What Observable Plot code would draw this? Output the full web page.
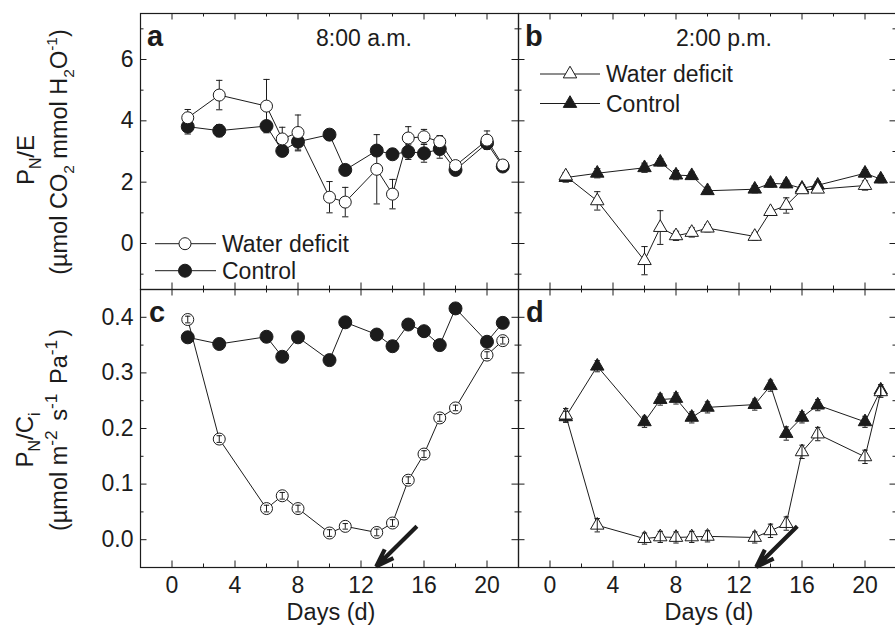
<!DOCTYPE html>
<html>
<head>
<meta charset="utf-8">
<script src="https://cdn.jsdelivr.net/npm/d3@7"></script>
<script src="https://cdn.jsdelivr.net/npm/@observablehq/plot@0.6"></script>
<style>
  html, body { margin: 0; padding: 0; background: #fff; }
  #wrap { position: relative; width: 895px; height: 627px; overflow: hidden; background: #fff; }
  #wrap > svg, #wrap > div { position: absolute; }
</style>
</head>
<body>
<div id="wrap"></div>
<script>
// ---------------- data ----------------
// Panel a: PN/E at 8:00 a.m.
const daysA = [1, 3, 6, 7, 8, 10, 11, 13, 14, 15, 16, 17, 18, 20, 21];
const wdA    = [4.10, 4.84, 4.48, 3.41, 3.62, 1.51, 1.35, 2.42, 1.61, 3.44, 3.48, 3.32, 2.54, 3.37, 2.56];
const wdAErr = [0.27, 0.48, 0.87, 0.38, 0.57, 0.51, 0.48, 1.13, 0.48, 0.37, 0.24, 0.20, 0.10, 0.30, 0.10];
const ctA    = [3.81, 3.68, 3.83, 3.02, 3.32, 3.55, 2.40, 3.03, 2.91, 2.99, 2.94, 3.08, 2.40, 3.27, 2.51];
const ctAErr = [0.24, 0.20, 0.10, 0.10, 0.30, 0.10, 0.10, 0.12, 0.10, 0.25, 0.29, 0.30, 0.10, 0.20, 0.10];

// Panel b: PN/E at 2:00 p.m.
const daysBwd = [1, 3, 6, 7, 8, 9, 10, 13, 14, 15, 16, 17, 20];
const wdB     = [2.20, 1.39, -0.56, 0.52, 0.25, 0.36, 0.50, 0.23, 1.04, 1.24, 1.75, 1.77, 1.89];
const wdBErr  = [0.10, 0.30, 0.46, 0.55, 0.15, 0.15, 0.12, 0.12, 0.10, 0.25, 0.10, 0.10, 0.15];
const daysBct = [1, 3, 6, 7, 8, 9, 10, 13, 14, 15, 16, 17, 20, 21];
const ctB     = [2.15, 2.29, 2.47, 2.65, 2.23, 2.21, 1.72, 1.77, 1.96, 1.94, 1.80, 1.90, 2.29, 2.10];
const ctBErr  = [0.15, 0.15, 0.15, 0.12, 0.15, 0.12, 0.12, 0.12, 0.12, 0.12, 0.12, 0.12, 0.12, 0.12];

// Panel c: PN/Ci at 8:00 a.m.
const daysC  = [1, 3, 6, 7, 8, 10, 11, 13, 14, 15, 16, 17, 18, 20, 21];
const wdC    = [0.396, 0.181, 0.056, 0.079, 0.056, 0.012, 0.024, 0.013, 0.030, 0.107, 0.154, 0.219, 0.237, 0.332, 0.358];
const wdCErr = [0.006, 0.006, 0.006, 0.006, 0.006, 0.006, 0.005, 0.006, 0.006, 0.006, 0.006, 0.006, 0.005, 0.006, 0.006];
const ctC    = [0.364, 0.352, 0.365, 0.329, 0.364, 0.323, 0.391, 0.369, 0.348, 0.387, 0.375, 0.350, 0.416, 0.356, 0.390];

// Panel d: PN/Ci at 2:00 p.m.
const daysD  = [1, 3, 6, 7, 8, 9, 10, 13, 14, 15, 16, 17, 20, 21];
const wdD    = [0.224, 0.026, 0.002, 0.005, 0.004, 0.005, 0.006, 0.004, 0.016, 0.029, 0.158, 0.190, 0.149, 0.266];
const wdDErr = [0.012, 0.012, 0.010, 0.010, 0.010, 0.010, 0.010, 0.010, 0.012, 0.012, 0.012, 0.012, 0.012, 0.010];
const ctD    = [0.221, 0.312, 0.212, 0.252, 0.254, 0.220, 0.238, 0.243, 0.277, 0.191, 0.220, 0.242, 0.212, 0.269];
const ctDErr = [0.010, 0.010, 0.010, 0.010, 0.010, 0.010, 0.010, 0.010, 0.010, 0.012, 0.010, 0.010, 0.010, 0.010];

// re-watering arrows (panels c, d)
const arrowTailDay = [15.55, 15.70];
const arrowTailVal = [0.024, 0.024];
const arrowHeadDay = [12.97, 13.10];
const arrowHeadVal = [-0.048, -0.049];

// axes / ticks
const xDomain = [-2, 22];
const xMajor = [0, 4, 8, 12, 16, 20];
const xMinor = [2, 6, 10, 14, 18];
const yTopDomain = [-1.5, 7.5];
const yTopMajor = [0, 2, 4, 6];
const yTopMinor = [-1, 1, 3, 5, 7];
const yBotDomain = [-0.05, 0.45];
const yBotMajor = [0, 0.1, 0.2, 0.3, 0.4];
const yBotMinor = [0.05, 0.15, 0.25, 0.35];

// text
const panelLetters = ["a", "b", "c", "d"];
const timeLabels = ["8:00 a.m.", "2:00 p.m."];
const seriesNames = ["Water deficit", "Control"];
const xTitle = "Days (d)";

// ---------------- drawing ----------------
const INK = "#1c1c1c";
const FONT = '"Liberation Sans", Arial, Helvetica, sans-serif';
const wrap = document.getElementById("wrap");

const zip = (days, v, e) => days.map((d, i) => ({day: d, v: v[i], e: e ? e[i] : 0}));

function errMarks(rows, capHalf) {
  return [
    Plot.ruleX(rows, {x: "day", y1: d => d.v - d.e, y2: d => d.v + d.e, stroke: INK, strokeWidth: 1}),
    Plot.link(rows, {x1: d => d.day - capHalf, x2: d => d.day + capHalf, y1: d => d.v + d.e, y2: d => d.v + d.e, stroke: INK, strokeWidth: 1}),
    Plot.link(rows, {x1: d => d.day - capHalf, x2: d => d.day + capHalf, y1: d => d.v - d.e, y2: d => d.v - d.e, stroke: INK, strokeWidth: 1})
  ];
}

function tickMarks(iw, ih, yMajor, yMinor) {
  const M = 6.5, m = 3.5;
  return [
    Plot.tickX(xMajor, {x: d => d, insetTop: ih - M, stroke: INK}),
    Plot.tickX(xMinor, {x: d => d, insetTop: ih - m, stroke: INK}),
    Plot.tickX(xMajor, {x: d => d, insetBottom: ih - M, stroke: INK}),
    Plot.tickX(xMinor, {x: d => d, insetBottom: ih - m, stroke: INK}),
    Plot.tickY(yMajor, {y: d => d, insetRight: iw - M, stroke: INK}),
    Plot.tickY(yMinor, {y: d => d, insetRight: iw - m, stroke: INK}),
    Plot.tickY(yMajor, {y: d => d, insetLeft: iw - M, stroke: INK}),
    Plot.tickY(yMinor, {y: d => d, insetLeft: iw - m, stroke: INK})
  ];
}

function arrowMark(rows) {
  return Plot.arrow(rows, {x1: "x1", y1: "y1", x2: "x2", y2: "y2", stroke: INK, strokeWidth: 4.2,
    headLength: 14, headAngle: 38, strokeLinejoin: "miter", strokeLinecap: "butt"});
}

function place(svg, left, top) {
  svg.style.left = left + "px";
  svg.style.top = top + "px";
  wrap.appendChild(svg);
}

const baseStyle = {background: "transparent", fontFamily: FONT, fontSize: "23px", color: INK, overflow: "visible"};

// ---- Panel a ----
{
  const W = 519, H = 290, mL = 140, mR = 1, mT = 13, mB = 1;
  const iw = W - mL - mR, ih = H - mT - mB;
  const wd = zip(daysA, wdA, wdAErr), ct = zip(daysA, ctA, ctAErr);
  const svg = Plot.plot({
    width: W, height: H, marginLeft: mL, marginRight: mR, marginTop: mT, marginBottom: mB,
    style: baseStyle,
    x: {domain: xDomain, axis: null},
    y: {domain: yTopDomain},
    marks: [
      Plot.lineY(ct, {x: "day", y: "v", stroke: INK, strokeWidth: 1}),
      Plot.lineY(wd, {x: "day", y: "v", stroke: INK, strokeWidth: 1}),
      ...errMarks(ct, 0.2),
      ...errMarks(wd, 0.2),
      Plot.dot(ct, {x: "day", y: "v", r: 6.5, fill: INK, stroke: INK, strokeWidth: 1}),
      Plot.dot(wd, {x: "day", y: "v", r: 6, fill: "white", stroke: INK, strokeWidth: 1}),
      ...tickMarks(iw, ih, yTopMajor, yTopMinor),
      Plot.axisY(yTopMajor, {tickSize: 0, tickPadding: 7, label: null, fill: INK}),
      Plot.frame({stroke: INK, strokeWidth: 1.2})
    ]
  });
  place(svg, 0, 0);
}

// ---- Panel b ----
{
  const W = 388, H = 290, mL = 10, mR = 0, mT = 13, mB = 1;
  const iw = W - mL - mR, ih = H - mT - mB;
  const wd = zip(daysBwd, wdB, wdBErr), ct = zip(daysBct, ctB, ctBErr);
  const svg = Plot.plot({
    width: W, height: H, marginLeft: mL, marginRight: mR, marginTop: mT, marginBottom: mB,
    style: baseStyle,
    x: {domain: xDomain, axis: null},
    y: {domain: yTopDomain, axis: null},
    marks: [
      Plot.lineY(ct, {x: "day", y: "v", stroke: INK, strokeWidth: 1}),
      Plot.lineY(wd, {x: "day", y: "v", stroke: INK, strokeWidth: 1}),
      ...errMarks(ct, 0.2),
      ...errMarks(wd, 0.2),
      Plot.dot(ct, {x: "day", y: "v", symbol: "triangle", r: 5, fill: INK, stroke: INK, strokeWidth: 1}),
      Plot.dot(wd, {x: "day", y: "v", symbol: "triangle", r: 5, fill: "white", stroke: INK, strokeWidth: 1}),
      ...tickMarks(iw, ih, yTopMajor, yTopMinor),
      Plot.frame({stroke: INK, strokeWidth: 1.2})
    ]
  });
  place(svg, 508, 0);
}

// ---- Panel c ----
{
  const W = 519, H = 348, mL = 140, mR = 1, mT = 10, mB = 60;
  const iw = W - mL - mR, ih = H - mT - mB;
  const wd = zip(daysC, wdC, wdCErr), ct = zip(daysC, ctC);
  const arrows = [0].map(i => ({x1: arrowTailDay[i], y1: arrowTailVal[i], x2: arrowHeadDay[i], y2: arrowHeadVal[i]}));
  const svg = Plot.plot({
    width: W, height: H, marginLeft: mL, marginRight: mR, marginTop: mT, marginBottom: mB,
    style: baseStyle,
    x: {domain: xDomain},
    y: {domain: yBotDomain},
    marks: [
      Plot.lineY(ct, {x: "day", y: "v", stroke: INK, strokeWidth: 1}),
      Plot.lineY(wd, {x: "day", y: "v", stroke: INK, strokeWidth: 1}),
      Plot.dot(ct, {x: "day", y: "v", r: 6.5, fill: INK, stroke: INK, strokeWidth: 1}),
      Plot.dot(wd, {x: "day", y: "v", r: 6, fill: "white", stroke: INK, strokeWidth: 1}),
      ...errMarks(wd, 0.17),
      arrowMark(arrows),
      ...tickMarks(iw, ih, yBotMajor, yBotMinor),
      Plot.axisY(yBotMajor, {tickSize: 0, tickPadding: 7, label: null, tickFormat: d3.format(".1f"), fill: INK}),
      Plot.axisX(xMajor, {tickSize: 0, tickPadding: 9, label: null, fill: INK}),
      Plot.frame({stroke: INK, strokeWidth: 1.2})
    ]
  });
  place(svg, 0, 279);
}

// ---- Panel d ----
{
  const W = 388, H = 348, mL = 10, mR = 0, mT = 10, mB = 60;
  const iw = W - mL - mR, ih = H - mT - mB;
  const wd = zip(daysD, wdD, wdDErr), ct = zip(daysD, ctD, ctDErr);
  const arrows = [1].map(i => ({x1: arrowTailDay[i], y1: arrowTailVal[i], x2: arrowHeadDay[i], y2: arrowHeadVal[i]}));
  const svg = Plot.plot({
    width: W, height: H, marginLeft: mL, marginRight: mR, marginTop: mT, marginBottom: mB,
    style: baseStyle,
    x: {domain: xDomain},
    y: {domain: yBotDomain, axis: null},
    marks: [
      Plot.lineY(ct, {x: "day", y: "v", stroke: INK, strokeWidth: 1}),
      Plot.lineY(wd, {x: "day", y: "v", stroke: INK, strokeWidth: 1}),
      Plot.dot(ct, {x: "day", y: "v", symbol: "triangle", r: 5, fill: INK, stroke: INK, strokeWidth: 1}),
      Plot.dot(wd, {x: "day", y: "v", symbol: "triangle", r: 5, fill: "white", stroke: INK, strokeWidth: 1}),
      ...errMarks(wd, 0.17),
      ...errMarks(ct, 0.17),
      arrowMark(arrows),
      ...tickMarks(iw, ih, yBotMajor, yBotMinor),
      Plot.axisX(xMajor, {tickSize: 0, tickPadding: 9, label: null, fill: INK}),
      Plot.frame({stroke: INK, strokeWidth: 1.2})
    ]
  });
  place(svg, 508, 279);
}

// ---------------- overlay: titles, legends, labels ----------------
const ov = d3.select(wrap).append("svg")
  .attr("width", 895).attr("height", 627)
  .style("left", "0px").style("top", "0px")
  .style("font-family", FONT).style("fill", INK);

function richText(x, y, parts, fs, rotate, small = 0.66) {
  const t = ov.append("text")
    .attr("transform", `translate(${x},${y})` + (rotate ? " rotate(-90)" : ""))
    .attr("text-anchor", "middle").attr("font-size", fs).attr("fill", INK);
  let shift = 0;
  for (const [s, k, gap] of parts) {
    const target = k === "sub" ? fs * 0.3 : k === "sup" ? -fs * 0.42 : 0;
    const ts = t.append("tspan").attr("dy", target - shift).attr("font-size", k === "n" ? fs : fs * small).text(s);
    if (gap) ts.attr("dx", gap);
    shift = target;
  }
  return t;
}

// y titles
richText(34, 160, [["P", "n"], ["N", "sub"], ["/E", "n"]], 24, true);
richText(67, 152, [["(µmol CO", "n"], ["2", "sub"], [" mmol H", "n"], ["2", "sub"], ["O", "n"], ["-1", "sup"], [")", "n"]], 23.5, true);
richText(33, 440, [["P", "n"], ["N", "sub"], ["/C", "n"], ["i", "sub"]], 24, true);
richText(67, 430, [["(µmol m", "n"], ["-2", "sup"], [" s", "n", 3], ["-1", "sup"], [" Pa", "n", 3], ["-1", "sup"], [")", "n", 3]], 23.5, true, 0.74);

// x titles
ov.append("text").attr("x", 331).attr("y", 620).attr("text-anchor", "middle").attr("font-size", 23.5).attr("fill", INK).text(xTitle);
ov.append("text").attr("x", 709).attr("y", 620).attr("text-anchor", "middle").attr("font-size", 23.5).attr("fill", INK).text(xTitle);

// panel letters
const letterPos = [[147, 46], [525, 46], [149, 322], [526, 322]];
panelLetters.forEach((l, i) => {
  ov.append("text").attr("x", letterPos[i][0]).attr("y", letterPos[i][1])
    .attr("font-size", 29).attr("font-weight", "bold").attr("fill", INK).text(l);
});

// time labels
ov.append("text").attr("x", 316).attr("y", 46).attr("font-size", 23).attr("fill", INK).text(timeLabels[0]);
ov.append("text").attr("x", 676).attr("y", 46).attr("font-size", 23).attr("fill", INK).text(timeLabels[1]);

// legends
function legendRow(x0, x1, xm, y, shape, filled, label) {
  ov.append("line").attr("x1", x0).attr("x2", x1).attr("y1", y).attr("y2", y).attr("stroke", INK).attr("stroke-width", 1);
  if (shape === "circle") {
    ov.append("circle").attr("cx", xm).attr("cy", y).attr("r", filled ? 6.5 : 6)
      .attr("fill", filled ? INK : "white").attr("stroke", INK);
  } else {
    ov.append("path").attr("d", d3.symbol(d3.symbolTriangle, Math.PI * 25)())
      .attr("transform", `translate(${xm},${y})`)
      .attr("fill", filled ? INK : "white").attr("stroke", INK);
  }
  ov.append("text").attr("x", x1 + 6).attr("y", y).attr("dy", "0.36em")
    .attr("font-size", 23).attr("fill", INK).text(label);
}
legendRow(155, 216, 185, 243.7, "circle", false, seriesNames[0]);
legendRow(155, 216, 185, 270.7, "circle", true, seriesNames[1]);
legendRow(540, 600, 570, 74, "triangle", false, seriesNames[0]);
legendRow(540, 600, 570, 103.5, "triangle", true, seriesNames[1]);
</script>
</body>
</html>
